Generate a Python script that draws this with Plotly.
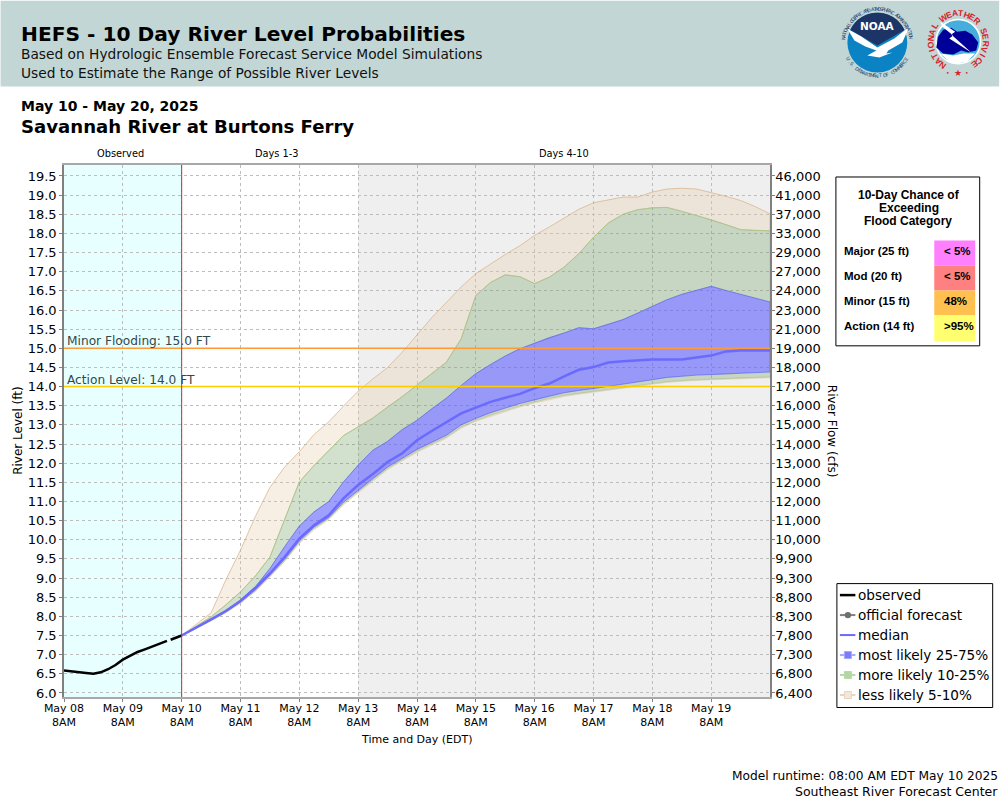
import math
import pandas as pd
import plotly.graph_objects as go

# ---- data ----
obs_hours = [-48, -45, -42, -39, -36, -33, -30, -27, -24, -21, -18, -15, -12, -9, -6, None, -4.5, -3, 0]
obs_level = [6.59, 6.56, 6.53, 6.52, 6.5, 6.54, 6.62, 6.73, 6.87, 6.97, 7.07, 7.14, 7.21, 7.28, 7.36, None, 7.39, 7.43, 7.5]

p95 = [7.5, 7.8, 8.09, 8.95, 9.73, 10.6, 11.37, 11.9, 12.3, 12.75, 13.08, 13.49, 13.88, 14.2, 14.5, 14.9, 15.35, 15.8, 16.2, 16.6, 16.95,
       17.21, 17.45, 17.68, 17.95, 18.17, 18.4, 18.63, 18.8, 18.88, 18.95, 18.95, 19.08, 19.16, 19.18, 19.16, 19.07, 18.97, 18.86, 18.7, 18.51]
p90 = [7.5, 7.75, 7.99, 8.3, 8.64, 9.05, 9.55, 10.53, 11.51, 11.94, 12.33, 12.72, 12.95, 13.18, 13.47, 13.74, 14.04, 14.33, 14.64, 15.25, 16.38,
       16.72, 16.92, 16.87, 16.69, 16.86, 17.12, 17.47, 17.9, 18.27, 18.5, 18.62, 18.67, 18.68, 18.58, 18.47, 18.36, 18.23, 18.1, 18.08, 18.07]
p75 = [7.5, 7.7, 7.92, 8.15, 8.43, 8.77, 9.25, 9.82, 10.36, 10.73, 11.0, 11.51, 11.95, 12.34, 12.57, 12.88, 13.12, 13.42, 13.7, 14.03, 14.34,
       14.58, 14.8, 14.99, 15.14, 15.28, 15.4, 15.54, 15.51, 15.62, 15.75, 15.92, 16.1, 16.27, 16.41, 16.51, 16.62, 16.51, 16.41, 16.31, 16.21]
p50 = [7.5, 7.7, 7.92, 8.14, 8.4, 8.74, 9.12, 9.55, 10.03, 10.38, 10.64, 11.08, 11.43, 11.72, 12.03, 12.26, 12.6, 12.84, 13.08, 13.3, 13.45,
       13.6, 13.71, 13.81, 13.96, 14.08, 14.27, 14.44, 14.51, 14.63, 14.66, 14.69, 14.71, 14.71, 14.71, 14.76, 14.81, 14.92, 14.94, 14.94, 14.94]
p25 = [7.5, 7.69, 7.9, 8.12, 8.38, 8.69, 9.08, 9.49, 9.97, 10.33, 10.58, 10.98, 11.3, 11.6, 11.9, 12.13, 12.36, 12.55, 12.73, 13.0, 13.17,
       13.32, 13.44, 13.56, 13.66, 13.75, 13.84, 13.9, 13.95, 14.0, 14.06, 14.12, 14.18, 14.24, 14.27, 14.3, 14.32, 14.33, 14.35, 14.37, 14.38]
p10 = [7.5, 7.69, 7.89, 8.1, 8.36, 8.66, 9.05, 9.45, 9.93, 10.29, 10.55, 10.94, 11.26, 11.56, 11.86, 12.09, 12.31, 12.5, 12.68, 12.94, 13.12,
       13.26, 13.38, 13.5, 13.6, 13.69, 13.77, 13.83, 13.87, 13.92, 13.97, 14.03, 14.08, 14.13, 14.16, 14.18, 14.2, 14.21, 14.23, 14.24, 14.25]
p05 = [7.5, 7.68, 7.88, 8.09, 8.34, 8.64, 9.03, 9.43, 9.9, 10.26, 10.52, 10.91, 11.23, 11.53, 11.83, 12.06, 12.28, 12.47, 12.65, 12.91, 13.09,
       13.23, 13.35, 13.47, 13.57, 13.66, 13.74, 13.8, 13.85, 13.9, 13.95, 14.01, 14.06, 14.11, 14.14, 14.16, 14.18, 14.19, 14.21, 14.22, 14.23]

level_ticks = [6.0, 6.5, 7.0, 7.5, 8.0, 8.5, 9.0, 9.5, 10.0, 10.5, 11.0, 11.5, 12.0, 12.5, 13.0, 13.5, 14.0,
               14.5, 15.0, 15.5, 16.0, 16.5, 17.0, 17.5, 18.0, 18.5, 19.0, 19.5]
flow_labels = ["6,400", "6,800", "7,300", "7,800", "8,300", "8,800", "9,300", "9,900", "10,000", "11,000", "12,000",
               "12,000", "13,000", "14,000", "15,000", "16,000", "17,000", "18,000", "19,000", "21,000", "23,000",
               "24,000", "27,000", "29,000", "33,000", "37,000", "41,000", "46,000"]
day_labels = ["May 08", "May 09", "May 10", "May 11", "May 12", "May 13", "May 14", "May 15", "May 16", "May 17", "May 18", "May 19"]
minor_level = 15.0
action_level = 14.0
categories = ["Major (25 ft)", "Mod (20 ft)", "Minor (15 ft)", "Action (14 ft)"]
chances = ["< 5%", "< 5%", "48%", ">95%"]
legend_names = ["observed", "official forecast", "median", "most likely 25-75%", "more likely 10-25%", "less likely 5-10%"]

# ---- helpers ----
FONT = "DejaVu Sans"
W, H = 1000, 800
L, R, T, B = 63.5, 770.5, 164.5, 697.0
t0 = pd.Timestamp("2025-05-10 08:00")
times = list(pd.date_range(t0, periods=len(p50), freq="6h"))
obs_times = [None if h is None else t0 + pd.Timedelta(hours=h) for h in obs_hours]
tick_times = list(pd.date_range("2025-05-08 08:00", periods=len(day_labels), freq="1D"))
tick_text = [d + "<br>8AM" for d in day_labels]

def px(x):
    return (x - L) / (R - L)

def py(y):
    return (B - y) / (B - T)

TAN_FILL, TAN_LINE = "rgba(230,200,165,0.3)", "rgba(215,180,140,0.75)"
GRN_FILL, GRN_LINE = "rgba(105,155,90,0.3)", "rgba(160,205,140,0.7)"
BLU_FILL, BLU_LINE = "rgba(90,90,255,0.58)", "rgba(90,90,255,0.6)"

fig = go.Figure()

def band(upper, lower, fill, line):
    fig.add_trace(go.Scatter(x=times + times[::-1], y=upper + lower[::-1], fill="toself", fillcolor=fill,
                             mode="lines", line=dict(color=line, width=1), showlegend=False, hoverinfo="skip"))

band(p95, p90, TAN_FILL, TAN_LINE)
band(p10, p05, TAN_FILL, "rgba(215,180,140,0.35)")
band(p90, p75, GRN_FILL, GRN_LINE)
band(p25, p10, GRN_FILL, "rgba(160,205,140,0.35)")
band(p75, p25, BLU_FILL, BLU_LINE)

fig.add_trace(go.Scatter(x=times, y=p50, mode="lines", name="median", showlegend=False,
                         line=dict(color="#6A6AFF", width=2.5)))
fig.add_trace(go.Scatter(x=obs_times, y=obs_level, mode="lines", name="observed", showlegend=False,
                         line=dict(color="black", width=2.5)))

# flood levels on the flow axis so that it is drawn
for lv, col in ((minor_level, "#FF9933"), (action_level, "#FFCC00")):
    fig.add_trace(go.Scatter(x=[tick_times[0], times[-1]], y=[lv, lv], yaxis="y2", mode="lines",
                             line=dict(color=col, width=1.5), showlegend=False, hoverinfo="skip"))

shapes = []
ann = []

def rect(x0, y0, x1, y1, fill, line=None, lw=1, layer="above"):
    shapes.append(dict(type="rect", xref="paper", yref="paper", x0=px(x0), x1=px(x1), y0=py(y1), y1=py(y0),
                       fillcolor=fill, line=dict(color=line or "rgba(0,0,0,0)", width=lw if line else 0), layer=layer))

def circle(cx, cy, r, fill, layer="above", line=None, lw=0):
    shapes.append(dict(type="circle", xref="paper", yref="paper", x0=px(cx - r), x1=px(cx + r), y0=py(cy + r), y1=py(cy - r),
                       fillcolor=fill, line=dict(color=line or "rgba(0,0,0,0)", width=lw), layer=layer))

def hline(x0, x1, y, color, lw):
    shapes.append(dict(type="line", xref="paper", yref="paper", x0=px(x0), x1=px(x1), y0=py(y), y1=py(y),
                       line=dict(color=color, width=lw), layer="above"))

def poly(points, fill, layer="above"):
    d = "M " + " L ".join(f"{px(x):.5f},{py(y):.5f}" for x, y in points) + " Z"
    shapes.append(dict(type="path", xref="paper", yref="paper", path=d, fillcolor=fill, line=dict(width=0), layer=layer))

def text(x, y, s, size, bold=False, color="black", family=FONT, anchor="left", angle=0):
    if bold:
        s = f"<b>{s}</b>"
    ann.append(dict(x=px(x), y=py(y), xref="paper", yref="paper", text=s, showarrow=False, xanchor=anchor, yanchor="middle",
                    font=dict(family=family, size=size, color=color), textangle=angle, align="center", borderpad=0, borderwidth=0))

# banner
rect(0, 0, W, 86, "#C2D7D5", layer="below")
text(20, 33, "HEFS - 10 Day River Level Probabilities", 20.2, True)
text(20, 53.5, "Based on Hydrologic Ensemble Forecast Service Model Simulations", 13.75, color="#111111")
text(20, 72.5, "Used to Estimate the Range of Possible River Levels", 13.75, color="#111111")
text(20, 105, "May 10 - May 20, 2025", 14, True)
text(20, 126, "Savannah River at Burtons Ferry", 18.1, True)

# section headers
text(120, 153, "Observed", 9.8, anchor="center")
text(276.5, 153, "Days 1-3", 9.8, anchor="center")
text(564, 153, "Days 4-10", 9.8, anchor="center")

# shaded regions and now line, on the date axis
shapes.append(dict(type="rect", xref="x", yref="paper", x0=tick_times[0], x1=tick_times[2], y0=0, y1=1,
                   fillcolor="#E8FFFF", line=dict(width=0), layer="below"))
shapes.append(dict(type="rect", xref="x", yref="paper", x0=tick_times[5], x1=times[-1], y0=0, y1=1,
                   fillcolor="#EFEFEF", line=dict(width=0), layer="below"))
shapes.append(dict(type="line", xref="x", yref="paper", x0=t0, x1=t0, y0=0, y1=1,
                   line=dict(color="#C83030", width=1), layer="above"))

# flood level labels
ann.append(dict(x=tick_times[0], y=minor_level, xref="x", yref="y", text="Minor Flooding: 15.0 FT", showarrow=False,
                xanchor="left", yanchor="bottom", xshift=1, yshift=-2, font=dict(family=FONT, size=12.2, color="#33484C")))
ann.append(dict(x=tick_times[0], y=action_level, xref="x", yref="y", text="Action Level: 14.0 FT", showarrow=False,
                xanchor="left", yanchor="bottom", xshift=1, yshift=-2, font=dict(family=FONT, size=12.2, color="#33484C")))

# axis titles and footer
text(18, 431, "River Level (ft)", 12, anchor="center", angle=-90)
text(832, 431, "River Flow (cfs)", 12, anchor="center", angle=90)
text(417, 740, "Time and Day (EDT)", 11, anchor="center")
text(999, 776, "Model runtime: 08:00 AM EDT May 10 2025", 12.2, anchor="right")
text(999, 792, "Southeast River Forecast Center", 12.5, anchor="right")

# chance box
rect(836.5, 176.5, 980.5, 345.5, "white", "black", 1)
LS = "Liberation Sans"
text(910, 195, "10-Day Chance of", 12, True, family=LS, anchor="center")
text(910, 208, "Exceeding", 12, True, family=LS, anchor="center")
text(909, 221, "Flood Category", 12, True, family=LS, anchor="center")
cell_cols = ["#FF80FF", "#FF8080", "#FFC050", "#FFFF70"]
for i, (cat, ch, col) in enumerate(zip(categories, chances, cell_cols)):
    y0 = 240 + i * 25
    rect(935, y0, 976, y0 + 25 + (1 if i == 3 else 0), col)
    text(845, y0 + 11, cat, 11.5, True, family=LS)
    text(945, y0 + 11, ch, 11.5, True, family=LS)

# legend box
rect(837.5, 583.5, 993.5, 707.5, "white", "black", 1)
legend_styles = [
    ("black", 2.5, None, None),
    ("#808080", 2, "#707070", "circle"),
    ("#6A6AFF", 2, None, None),
    ("#A8A8FF", 2, "#7C7CF5", "square"),
    ("#B8D8A8", 2, "#B4D6A4", "square"),
    ("#E8D5C0", 2, "#F3E7DA", "square"),
]
for i, (name, (col, lw, mcol, sym)) in enumerate(zip(legend_names, legend_styles)):
    y = 595 + i * 20
    hline(840.5, 856, y, col, lw)
    if sym == "circle":
        circle(848.5, y, 3.2, mcol)
    elif sym == "square":
        rect(845, y - 3.5, 852, y + 3.5, mcol, col, 1)
    text(859, y, name, 13.6, color="black")

# NOAA logo
NX, NY, NR = 878, 42, 30
circle(NX, NY, NR, "#0A82C4")
top = []
for k in range(0, 31):
    a = math.radians(-155 + 130 * k / 30)
    top.append((NX + NR * math.cos(a), NY + NR * math.sin(a)))
poly(top + [(NX, 45)], "#1D3566")
poly([(848, 28), (862, 36), (878, 47), (895, 38), (910, 26), (903, 42), (889, 50), (887, 53), (893, 52), (880, 57), (868, 55),
      (877, 50), (866, 46), (855, 40)], "white")
text(NX, 25, "<b>NOAA</b>", 10.5, color="white", anchor="center")
ring_n = "NATIONAL OCEANIC AND ATMOSPHERIC ADMINISTRATION"
for i, ch in enumerate(ring_n):
    deg = -172 + 164 * i / (len(ring_n) - 1)
    a = math.radians(deg)
    text(NX + 33.5 * math.cos(a), NY + 33.5 * math.sin(a), ch, 4.8, color="#1D3566", anchor="center", angle=deg + 90)
ring_d = "U.S. DEPARTMENT OF COMMERCE"
for i, ch in enumerate(ring_d):
    deg = 150 - 120 * i / (len(ring_d) - 1)
    a = math.radians(deg)
    text(NX + 33.5 * math.cos(a), NY + 33.5 * math.sin(a), ch, 4.8, color="#1D3566", anchor="center", angle=deg - 90)

# NWS logo
MX, MY = 959, 41
circle(MX, MY, 23, "white")
circle(MX, MY, 21.5, "#45AEDC")
poly([(939, 36), (944, 29), (952, 27), (958, 31), (966, 30), (973, 34), (979, 42), (977, 50), (969, 52), (962, 50), (954, 54),
      (944, 53), (937, 47)], "#000099")
poly([(941, 53), (954, 55), (964, 53), (976, 53), (967, 62), (952, 63)], "white")
poly([(941, 21), (956, 31), (952, 34), (972, 52), (950, 38), (954, 35), (943, 26)], "white")
ring_w = "NATIONAL WEATHER SERVICE"
for i, ch in enumerate(ring_w):
    deg = 124 + 290 * i / (len(ring_w) - 1)
    a = math.radians(deg)
    text(MX + 27.5 * math.cos(a), MY + 28.5 * math.sin(a), ch, 8.5, True, color="#D8212A", anchor="center", family=LS,
         angle=deg + 90)
for dx, s, size in ((-10, "•", 6), (0, "★", 9), (9, "•", 6)):
    text(MX + dx, 72, s, size, color="#D8212A", anchor="center", family="DejaVu Sans")

axis_common = dict(showline=True, linecolor="#808080", linewidth=1.5, ticks="outside", ticklen=3, tickcolor="#808080",
                   tickfont=dict(family=FONT, size=13, color="black"))
yrange = [19.5 - (697 - 175.5) / 38.33, 19.5 + (175.5 - 164.5) / 38.33]
fig.update_layout(
    width=W, height=H, autosize=False, paper_bgcolor="white", plot_bgcolor="white",
    margin=dict(l=L, r=W - R, t=T, b=H - B, pad=0, autoexpand=False),
    shapes=shapes, annotations=ann,
    hovermode=False,
    font=dict(family=FONT),
    xaxis=dict(type="date", range=[tick_times[0], times[-1]], tickmode="array", tickvals=tick_times, ticktext=tick_text,
               showgrid=True, gridcolor="#BDBDBD", griddash="3px,3px", gridwidth=1, zeroline=False, mirror=True,
               showline=True, linecolor="#A8A8A8", linewidth=1.5, ticks="outside", ticklen=3, tickcolor="#808080",
               ticklabelstandoff=-3, tickfont=dict(family=FONT, size=11, color="black")),
    yaxis=dict(range=yrange, tickmode="array", tickvals=level_ticks, ticktext=[f"{v:.1f}" for v in level_ticks],
               showgrid=True, gridcolor="#BDBDBD", griddash="3px,3px", gridwidth=1, zeroline=False, **axis_common),
    yaxis2=dict(range=yrange, overlaying="y", side="right", tickmode="array", tickvals=level_ticks, ticktext=flow_labels,
                showgrid=False, zeroline=False, ticklabelstandoff=-2, **axis_common),
    showlegend=False,
)

fig.write_html("out.html", config={"displayModeBar": False}, post_script="document.body.style.margin='0';")
